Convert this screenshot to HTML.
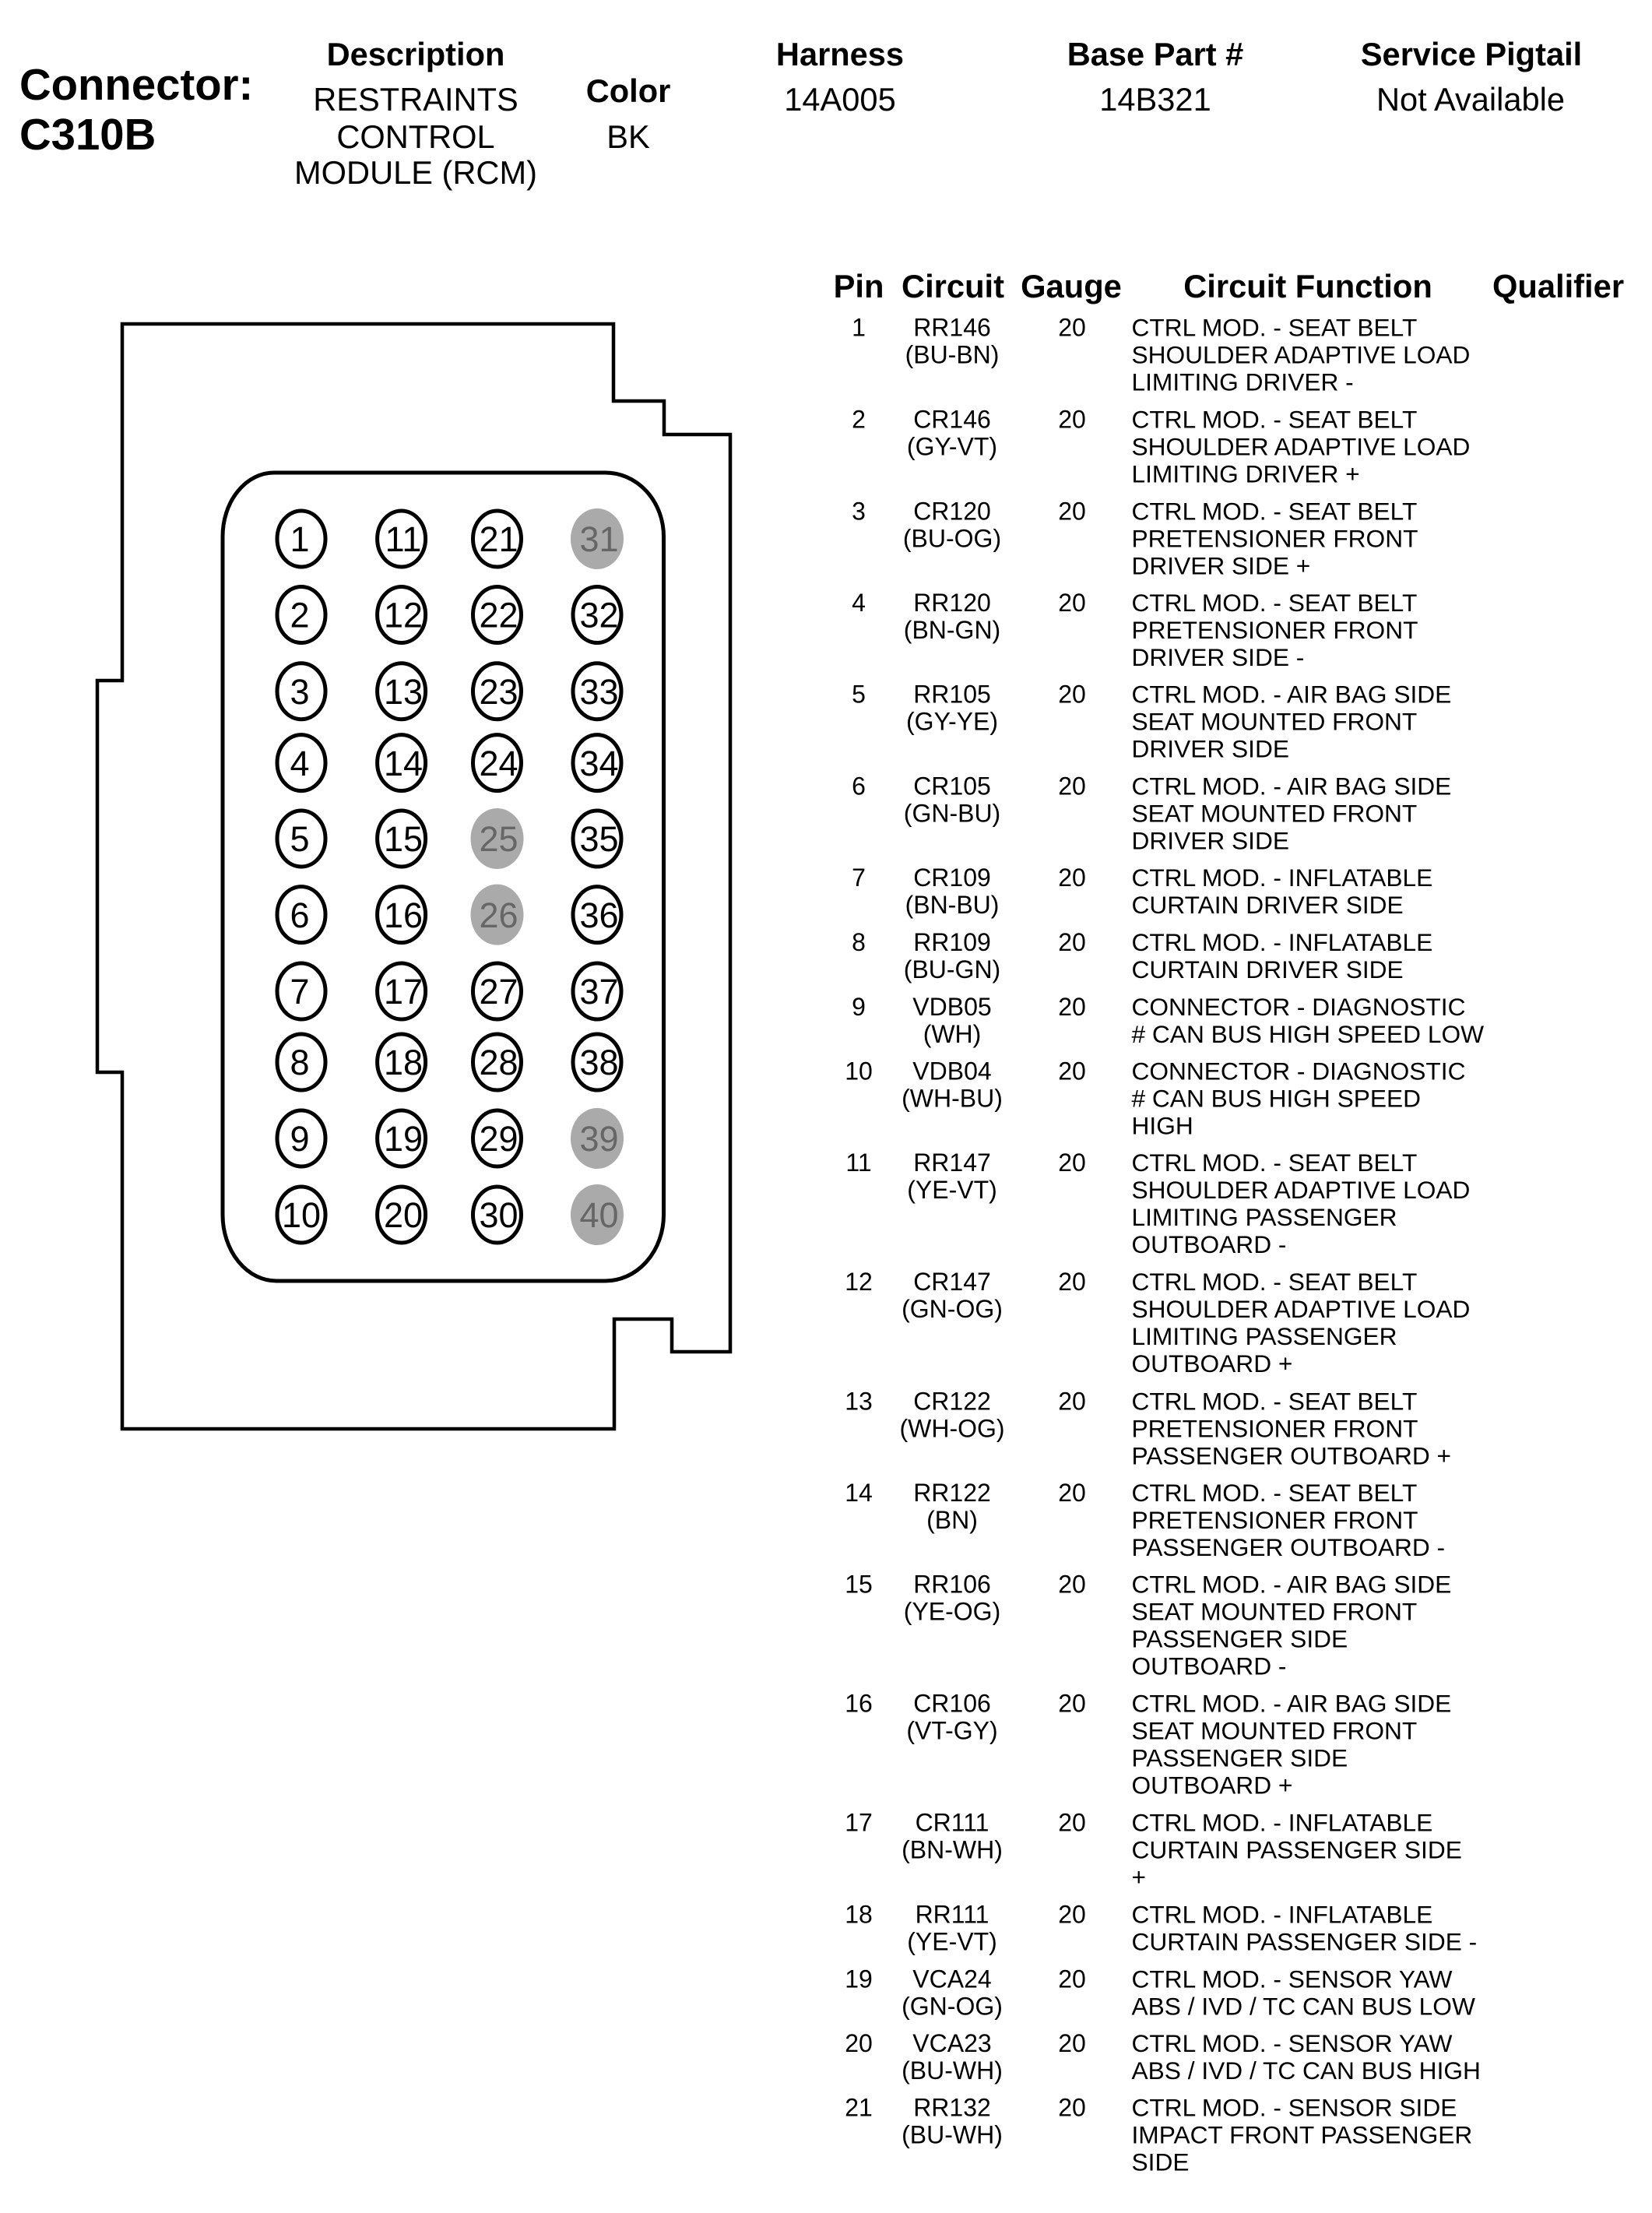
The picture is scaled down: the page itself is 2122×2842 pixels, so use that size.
<!DOCTYPE html>
<html><head><meta charset="utf-8"><style>
html,body{margin:0;padding:0;background:#fff}
svg{display:block}
text{font-family:"Liberation Sans",Arial,sans-serif;fill:#000}
.b{font-weight:bold;font-size:41.6px;text-anchor:middle}
.h{font-weight:bold;font-size:41.7px;text-anchor:middle}
.v{font-size:41.6px;text-anchor:middle}
.c{font-size:32px;text-anchor:middle}
.f{font-size:31.7px}
.n{font-size:45px;text-anchor:middle}
.g{fill:#666}
.p{fill:#fff;stroke:#000;stroke-width:5}
.q{fill:#aaa}
</style></head><body>
<svg xmlns="http://www.w3.org/2000/svg" width="2122" height="2842" viewBox="0 0 2122 2842">
<rect width="2122" height="2842" fill="#fff"/>
<text x="25" y="128" style="font-weight:bold;font-size:56.3px">Connector:</text>
<text x="25" y="192" style="font-weight:bold;font-size:56.3px">C310B</text>
<text class="b" x="534" y="84">Description</text>
<text class="v" x="534" y="142">RESTRAINTS</text>
<text class="v" x="534" y="190">CONTROL</text>
<text class="v" x="534" y="236">MODULE (RCM)</text>
<text class="b" x="807" y="131">Color</text>
<text class="v" x="807" y="190">BK</text>
<text class="b" x="1079" y="84">Harness</text>
<text class="v" x="1079" y="142">14A005</text>
<text class="b" x="1484" y="84">Base Part #</text>
<text class="v" x="1484" y="142">14B321</text>
<text class="b" x="1890" y="84">Service Pigtail</text>
<text class="v" x="1889" y="142">Not Available</text>

<path d="M157 416H788V515H853V558H938V1736H863V1694H789V1835H157V1377H125V874H157Z" fill="none" stroke="#000" stroke-width="4.5" stroke-linejoin="miter"/>
<path d="M352 607H777A75 82 0 0 1 852.5 689V1560A75 85 0 0 1 777 1645H355A69 85 0 0 1 286 1560V689A66 82 0 0 1 352 607Z" fill="none" stroke="#000" stroke-width="5"/>

<g>
<ellipse class="p" cx="387" cy="692" rx="31" ry="36"/><text class="n" x="385" y="708">1</text>
<ellipse class="p" cx="387" cy="789.5" rx="31" ry="36"/><text class="n" x="385" y="805.5">2</text>
<ellipse class="p" cx="387" cy="887.7" rx="31" ry="36"/><text class="n" x="385" y="904">3</text>
<ellipse class="p" cx="387" cy="979.6" rx="31" ry="36"/><text class="n" x="385" y="996">4</text>
<ellipse class="p" cx="387" cy="1077" rx="31" ry="36"/><text class="n" x="385" y="1093">5</text>
<ellipse class="p" cx="387" cy="1174.6" rx="31" ry="36"/><text class="n" x="385" y="1191">6</text>
<ellipse class="p" cx="387" cy="1273" rx="31" ry="36"/><text class="n" x="385" y="1289">7</text>
<ellipse class="p" cx="387" cy="1364" rx="31" ry="36"/><text class="n" x="385" y="1380">8</text>
<ellipse class="p" cx="387" cy="1462" rx="31" ry="36"/><text class="n" x="385" y="1478">9</text>
<ellipse class="p" cx="387" cy="1560" rx="31" ry="36"/><text class="n" x="387" y="1576">10</text>

<ellipse class="p" cx="515.6" cy="692" rx="31" ry="36"/><text class="n" x="518" y="708">11</text>
<ellipse class="p" cx="515.6" cy="789.5" rx="31" ry="36"/><text class="n" x="518" y="805.5">12</text>
<ellipse class="p" cx="515.6" cy="887.7" rx="31" ry="36"/><text class="n" x="518" y="904">13</text>
<ellipse class="p" cx="515.6" cy="979.6" rx="31" ry="36"/><text class="n" x="518" y="996">14</text>
<ellipse class="p" cx="515.6" cy="1077" rx="31" ry="36"/><text class="n" x="518" y="1093">15</text>
<ellipse class="p" cx="515.6" cy="1174.6" rx="31" ry="36"/><text class="n" x="518" y="1191">16</text>
<ellipse class="p" cx="515.6" cy="1273" rx="31" ry="36"/><text class="n" x="518" y="1289">17</text>
<ellipse class="p" cx="515.6" cy="1364" rx="31" ry="36"/><text class="n" x="518" y="1380">18</text>
<ellipse class="p" cx="515.6" cy="1462" rx="31" ry="36"/><text class="n" x="518" y="1478">19</text>
<ellipse class="p" cx="515.6" cy="1560" rx="31" ry="36"/><text class="n" x="518" y="1576">20</text>

<ellipse class="p" cx="638.5" cy="692" rx="31" ry="36"/><text class="n" x="640.5" y="708">21</text>
<ellipse class="p" cx="638.5" cy="789.5" rx="31" ry="36"/><text class="n" x="640.5" y="805.5">22</text>
<ellipse class="p" cx="638.5" cy="887.7" rx="31" ry="36"/><text class="n" x="640.5" y="904">23</text>
<ellipse class="p" cx="638.5" cy="979.6" rx="31" ry="36"/><text class="n" x="640.5" y="996">24</text>
<ellipse class="q" cx="638.5" cy="1077" rx="34" ry="39"/><text class="n g" x="640.5" y="1093">25</text>
<ellipse class="q" cx="638.5" cy="1174.6" rx="34" ry="39"/><text class="n g" x="640.5" y="1191">26</text>
<ellipse class="p" cx="638.5" cy="1273" rx="31" ry="36"/><text class="n" x="640.5" y="1289">27</text>
<ellipse class="p" cx="638.5" cy="1364" rx="31" ry="36"/><text class="n" x="640.5" y="1380">28</text>
<ellipse class="p" cx="638.5" cy="1462" rx="31" ry="36"/><text class="n" x="640.5" y="1478">29</text>
<ellipse class="p" cx="638.5" cy="1560" rx="31" ry="36"/><text class="n" x="640.5" y="1576">30</text>

<ellipse class="q" cx="767" cy="692" rx="34" ry="39"/><text class="n g" x="769.5" y="708">31</text>
<ellipse class="p" cx="767" cy="789.5" rx="31" ry="36"/><text class="n" x="769.5" y="805.5">32</text>
<ellipse class="p" cx="767" cy="887.7" rx="31" ry="36"/><text class="n" x="769.5" y="904">33</text>
<ellipse class="p" cx="767" cy="979.6" rx="31" ry="36"/><text class="n" x="769.5" y="996">34</text>
<ellipse class="p" cx="767" cy="1077" rx="31" ry="36"/><text class="n" x="769.5" y="1093">35</text>
<ellipse class="p" cx="767" cy="1174.6" rx="31" ry="36"/><text class="n" x="769.5" y="1191">36</text>
<ellipse class="p" cx="767" cy="1273" rx="31" ry="36"/><text class="n" x="769.5" y="1289">37</text>
<ellipse class="p" cx="767" cy="1364" rx="31" ry="36"/><text class="n" x="769.5" y="1380">38</text>
<ellipse class="q" cx="767" cy="1462" rx="34" ry="39"/><text class="n g" x="769.5" y="1478">39</text>
<ellipse class="q" cx="767" cy="1560" rx="34" ry="39"/><text class="n g" x="769.5" y="1576">40</text>
</g>

<text class="h" x="1103" y="382">Pin</text>
<text class="h" x="1224" y="382">Circuit</text>
<text class="h" x="1376" y="382">Gauge</text>
<text class="h" x="1680" y="382">Circuit Function</text>
<text class="h" x="2001.5" y="382">Qualifier</text>

<g transform="translate(0,431.5)"><text class="c" x="1103">1</text><text class="c" x="1223">RR146</text><text class="c" x="1223" y="35">(BU-BN)</text><text class="c" x="1377">20</text><text class="f" x="1453.5">CTRL MOD. - SEAT BELT</text><text class="f" x="1453.5" y="35">SHOULDER ADAPTIVE LOAD</text><text class="f" x="1453.5" y="70">LIMITING DRIVER -</text></g>
<g transform="translate(0,549.5)"><text class="c" x="1103">2</text><text class="c" x="1223">CR146</text><text class="c" x="1223" y="35">(GY-VT)</text><text class="c" x="1377">20</text><text class="f" x="1453.5">CTRL MOD. - SEAT BELT</text><text class="f" x="1453.5" y="35">SHOULDER ADAPTIVE LOAD</text><text class="f" x="1453.5" y="70">LIMITING DRIVER +</text></g>
<g transform="translate(0,667.5)"><text class="c" x="1103">3</text><text class="c" x="1223">CR120</text><text class="c" x="1223" y="35">(BU-OG)</text><text class="c" x="1377">20</text><text class="f" x="1453.5">CTRL MOD. - SEAT BELT</text><text class="f" x="1453.5" y="35">PRETENSIONER FRONT</text><text class="f" x="1453.5" y="70">DRIVER SIDE +</text></g>
<g transform="translate(0,785)"><text class="c" x="1103">4</text><text class="c" x="1223">RR120</text><text class="c" x="1223" y="35">(BN-GN)</text><text class="c" x="1377">20</text><text class="f" x="1453.5">CTRL MOD. - SEAT BELT</text><text class="f" x="1453.5" y="35">PRETENSIONER FRONT</text><text class="f" x="1453.5" y="70">DRIVER SIDE -</text></g>
<g transform="translate(0,902.5)"><text class="c" x="1103">5</text><text class="c" x="1223">RR105</text><text class="c" x="1223" y="35">(GY-YE)</text><text class="c" x="1377">20</text><text class="f" x="1453.5">CTRL MOD. - AIR BAG SIDE</text><text class="f" x="1453.5" y="35">SEAT MOUNTED FRONT</text><text class="f" x="1453.5" y="70">DRIVER SIDE</text></g>
<g transform="translate(0,1020.5)"><text class="c" x="1103">6</text><text class="c" x="1223">CR105</text><text class="c" x="1223" y="35">(GN-BU)</text><text class="c" x="1377">20</text><text class="f" x="1453.5">CTRL MOD. - AIR BAG SIDE</text><text class="f" x="1453.5" y="35">SEAT MOUNTED FRONT</text><text class="f" x="1453.5" y="70">DRIVER SIDE</text></g>
<g transform="translate(0,1138)"><text class="c" x="1103">7</text><text class="c" x="1223">CR109</text><text class="c" x="1223" y="35">(BN-BU)</text><text class="c" x="1377">20</text><text class="f" x="1453.5">CTRL MOD. - INFLATABLE</text><text class="f" x="1453.5" y="35">CURTAIN DRIVER SIDE</text></g>
<g transform="translate(0,1221)"><text class="c" x="1103">8</text><text class="c" x="1223">RR109</text><text class="c" x="1223" y="35">(BU-GN)</text><text class="c" x="1377">20</text><text class="f" x="1453.5">CTRL MOD. - INFLATABLE</text><text class="f" x="1453.5" y="35">CURTAIN DRIVER SIDE</text></g>
<g transform="translate(0,1304)"><text class="c" x="1103">9</text><text class="c" x="1223">VDB05</text><text class="c" x="1223" y="35">(WH)</text><text class="c" x="1377">20</text><text class="f" x="1453.5">CONNECTOR - DIAGNOSTIC</text><text class="f" x="1453.5" y="35"># CAN BUS HIGH SPEED LOW</text></g>
<g transform="translate(0,1386.5)"><text class="c" x="1103">10</text><text class="c" x="1223">VDB04</text><text class="c" x="1223" y="35">(WH-BU)</text><text class="c" x="1377">20</text><text class="f" x="1453.5">CONNECTOR - DIAGNOSTIC</text><text class="f" x="1453.5" y="35"># CAN BUS HIGH SPEED</text><text class="f" x="1453.5" y="70">HIGH</text></g>
<g transform="translate(0,1504)"><text class="c" x="1103">11</text><text class="c" x="1223">RR147</text><text class="c" x="1223" y="35">(YE-VT)</text><text class="c" x="1377">20</text><text class="f" x="1453.5">CTRL MOD. - SEAT BELT</text><text class="f" x="1453.5" y="35">SHOULDER ADAPTIVE LOAD</text><text class="f" x="1453.5" y="70">LIMITING PASSENGER</text><text class="f" x="1453.5" y="105">OUTBOARD -</text></g>
<g transform="translate(0,1657)"><text class="c" x="1103">12</text><text class="c" x="1223">CR147</text><text class="c" x="1223" y="35">(GN-OG)</text><text class="c" x="1377">20</text><text class="f" x="1453.5">CTRL MOD. - SEAT BELT</text><text class="f" x="1453.5" y="35">SHOULDER ADAPTIVE LOAD</text><text class="f" x="1453.5" y="70">LIMITING PASSENGER</text><text class="f" x="1453.5" y="105">OUTBOARD +</text></g>
<g transform="translate(0,1810.5)"><text class="c" x="1103">13</text><text class="c" x="1223">CR122</text><text class="c" x="1223" y="35">(WH-OG)</text><text class="c" x="1377">20</text><text class="f" x="1453.5">CTRL MOD. - SEAT BELT</text><text class="f" x="1453.5" y="35">PRETENSIONER FRONT</text><text class="f" x="1453.5" y="70">PASSENGER OUTBOARD +</text></g>
<g transform="translate(0,1928)"><text class="c" x="1103">14</text><text class="c" x="1223">RR122</text><text class="c" x="1223" y="35">(BN)</text><text class="c" x="1377">20</text><text class="f" x="1453.5">CTRL MOD. - SEAT BELT</text><text class="f" x="1453.5" y="35">PRETENSIONER FRONT</text><text class="f" x="1453.5" y="70">PASSENGER OUTBOARD -</text></g>
<g transform="translate(0,2045.5)"><text class="c" x="1103">15</text><text class="c" x="1223">RR106</text><text class="c" x="1223" y="35">(YE-OG)</text><text class="c" x="1377">20</text><text class="f" x="1453.5">CTRL MOD. - AIR BAG SIDE</text><text class="f" x="1453.5" y="35">SEAT MOUNTED FRONT</text><text class="f" x="1453.5" y="70">PASSENGER SIDE</text><text class="f" x="1453.5" y="105">OUTBOARD -</text></g>
<g transform="translate(0,2198.5)"><text class="c" x="1103">16</text><text class="c" x="1223">CR106</text><text class="c" x="1223" y="35">(VT-GY)</text><text class="c" x="1377">20</text><text class="f" x="1453.5">CTRL MOD. - AIR BAG SIDE</text><text class="f" x="1453.5" y="35">SEAT MOUNTED FRONT</text><text class="f" x="1453.5" y="70">PASSENGER SIDE</text><text class="f" x="1453.5" y="105">OUTBOARD +</text></g>
<g transform="translate(0,2351.5)"><text class="c" x="1103">17</text><text class="c" x="1223">CR111</text><text class="c" x="1223" y="35">(BN-WH)</text><text class="c" x="1377">20</text><text class="f" x="1453.5">CTRL MOD. - INFLATABLE</text><text class="f" x="1453.5" y="35">CURTAIN PASSENGER SIDE</text><text class="f" x="1453.5" y="70">+</text></g>
<g transform="translate(0,2469.5)"><text class="c" x="1103">18</text><text class="c" x="1223">RR111</text><text class="c" x="1223" y="35">(YE-VT)</text><text class="c" x="1377">20</text><text class="f" x="1453.5">CTRL MOD. - INFLATABLE</text><text class="f" x="1453.5" y="35">CURTAIN PASSENGER SIDE -</text></g>
<g transform="translate(0,2552.5)"><text class="c" x="1103">19</text><text class="c" x="1223">VCA24</text><text class="c" x="1223" y="35">(GN-OG)</text><text class="c" x="1377">20</text><text class="f" x="1453.5">CTRL MOD. - SENSOR YAW</text><text class="f" x="1453.5" y="35">ABS / IVD / TC CAN BUS LOW</text></g>
<g transform="translate(0,2635)"><text class="c" x="1103">20</text><text class="c" x="1223">VCA23</text><text class="c" x="1223" y="35">(BU-WH)</text><text class="c" x="1377">20</text><text class="f" x="1453.5">CTRL MOD. - SENSOR YAW</text><text class="f" x="1453.5" y="35">ABS / IVD / TC CAN BUS HIGH</text></g>
<g transform="translate(0,2717.5)"><text class="c" x="1103">21</text><text class="c" x="1223">RR132</text><text class="c" x="1223" y="35">(BU-WH)</text><text class="c" x="1377">20</text><text class="f" x="1453.5">CTRL MOD. - SENSOR SIDE</text><text class="f" x="1453.5" y="35">IMPACT FRONT PASSENGER</text><text class="f" x="1453.5" y="70">SIDE</text></g>
</svg>
</body></html>
